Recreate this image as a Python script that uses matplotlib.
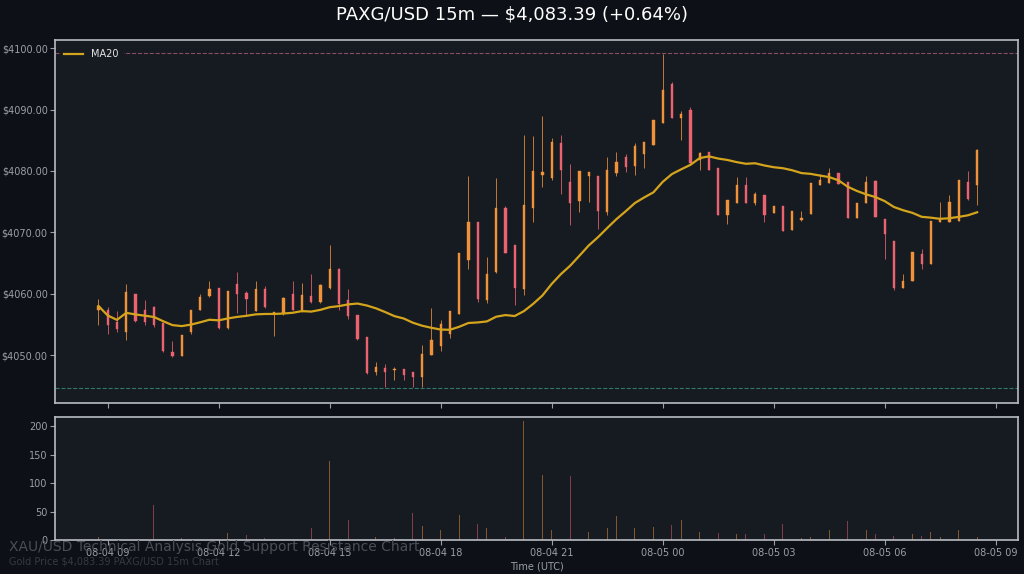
import numpy as np
import pandas as pd
import matplotlib
matplotlib.use("Agg")
import matplotlib.pyplot as plt
import matplotlib.dates as mdates

# 15m candles, PAXG/USD
start = "2025-08-04 08:45"
opens = [4057.3, 4057.3, 4055.4, 4053.8, 4060.0, 4057.3, 4057.9, 4055.2, 4050.5, 4049.8,
         4053.8, 4057.4, 4059.7, 4061.0, 4054.4, 4061.6, 4060.1, 4057.2, 4060.7, 4056.8,
         4056.8, 4059.9, 4057.4, 4059.7, 4058.7, 4061.0, 4064.0, 4058.9, 4056.5, 4052.9,
         4047.2, 4047.9, 4047.5, 4047.7, 4047.2, 4046.5, 4050.0, 4051.4, 4053.5, 4056.7,
         4065.5, 4071.6, 4058.9, 4063.6, 4073.9, 4067.9, 4060.7, 4074.0, 4079.3, 4078.9,
         4084.5, 4078.2, 4075.1, 4079.1, 4079.1, 4073.3, 4079.6, 4082.3, 4080.8, 4082.8,
         4084.2, 4087.8, 4094.1, 4088.7, 4090.0, 4081.8, 4083.1, 4080.5, 4072.8, 4074.7,
         4077.7, 4074.7, 4076.0, 4073.1, 4074.3, 4070.3, 4072.0, 4073.0, 4077.7, 4078.1,
         4079.6, 4078.2, 4072.3, 4074.8, 4078.4, 4072.1, 4068.6, 4060.9, 4062.1, 4066.5,
         4064.8, 4071.6, 4071.6, 4071.9, 4078.2, 4077.7]
highs = [4059.2, 4057.9, 4057.1, 4061.6, 4060.0, 4058.9, 4058.0, 4055.2, 4052.3, 4053.3,
         4057.4, 4060.0, 4062.0, 4061.0, 4060.5, 4063.6, 4060.5, 4062.0, 4061.2, 4056.8,
         4059.5, 4062.0, 4061.8, 4063.2, 4061.5, 4068.0, 4064.2, 4060.7, 4056.5, 4052.9,
         4048.9, 4048.6, 4048.1, 4047.7, 4047.2, 4051.6, 4057.7, 4055.7, 4057.1, 4066.6,
         4079.2, 4071.7, 4065.9, 4078.9, 4074.3, 4067.9, 4085.8, 4085.7, 4088.9, 4085.4,
         4085.8, 4081.1, 4080.0, 4079.9, 4079.1, 4082.3, 4083.1, 4082.8, 4084.6, 4084.7,
         4088.3, 4099.1, 4094.5, 4089.8, 4090.4, 4083.1, 4083.1, 4080.5, 4075.2, 4079.0,
         4079.0, 4076.6, 4076.0, 4074.3, 4074.3, 4073.5, 4073.4, 4078.1, 4079.5, 4080.4,
         4079.6, 4078.2, 4074.8, 4079.2, 4078.6, 4072.2, 4068.6, 4063.2, 4066.8, 4067.3,
         4071.9, 4074.9, 4076.0, 4078.6, 4080.0, 4083.5]
lows = [4054.9, 4053.5, 4053.8, 4052.4, 4055.4, 4054.9, 4054.6, 4050.5, 4049.7, 4049.8,
        4053.5, 4057.3, 4059.5, 4054.2, 4054.2, 4056.8, 4056.5, 4057.2, 4057.6, 4053.1,
        4056.5, 4057.3, 4057.0, 4058.5, 4058.5, 4060.7, 4057.3, 4055.8, 4052.5, 4046.9,
        4046.7, 4044.8, 4045.9, 4045.9, 4044.8, 4044.8, 4050.0, 4050.7, 4052.7, 4056.7,
        4064.1, 4058.6, 4058.5, 4063.3, 4066.6, 4058.1, 4059.8, 4071.7, 4077.3, 4078.6,
        4076.3, 4071.2, 4073.3, 4075.0, 4070.6, 4072.8, 4079.2, 4079.9, 4079.3, 4080.4,
        4084.2, 4087.8, 4088.7, 4085.0, 4081.3, 4080.2, 4080.1, 4072.8, 4071.4, 4074.7,
        4074.7, 4074.4, 4071.7, 4073.1, 4070.2, 4070.3, 4071.9, 4073.0, 4077.7, 4078.1,
        4077.9, 4072.3, 4072.3, 4074.8, 4072.5, 4065.6, 4060.6, 4060.9, 4062.1, 4064.1,
        4064.8, 4071.6, 4071.6, 4071.9, 4075.2, 4074.4]
closes = [4058.0, 4054.9, 4054.3, 4060.3, 4055.6, 4055.4, 4054.9, 4050.7, 4049.8, 4053.3,
          4057.4, 4059.5, 4060.7, 4054.4, 4060.4, 4059.9, 4059.2, 4060.7, 4057.8, 4056.8,
          4059.3, 4057.4, 4059.8, 4058.6, 4061.4, 4064.0, 4058.4, 4056.3, 4052.6, 4047.0,
          4048.1, 4047.3, 4047.5, 4046.7, 4046.5, 4050.2, 4052.4, 4055.0, 4057.1, 4066.6,
          4071.7, 4059.1, 4063.2, 4073.9, 4066.7, 4060.9, 4074.4, 4080.0, 4079.8, 4084.7,
          4080.1, 4074.7, 4080.0, 4079.9, 4073.5, 4080.1, 4081.5, 4080.7, 4084.0, 4084.7,
          4088.3, 4093.2, 4088.7, 4089.3, 4081.3, 4082.9, 4080.1, 4072.8, 4075.2, 4077.7,
          4074.7, 4076.3, 4072.8, 4074.3, 4070.2, 4073.5, 4072.3, 4078.1, 4078.5, 4079.7,
          4077.9, 4072.3, 4074.8, 4078.2, 4072.5, 4069.8, 4060.9, 4062.1, 4066.8, 4064.8,
          4071.9, 4072.4, 4074.9, 4078.6, 4075.4, 4083.39]
volumes = [6, 1, 1, 1, 1, 1, 61, 1, 1, 4,
           1, 1, 1, 1, 12, 1, 9, 1, 4, 1,
           1, 1, 1, 21, 1, 139, 1, 35, 1, 1,
           5, 1, 4, 1, 48, 24, 1, 18, 1, 45,
           1, 29, 21, 1, 6, 1, 209, 1, 114, 18,
           1, 112, 1, 14, 1, 21, 42, 1, 21, 1,
           23, 1, 26, 36, 1, 14, 1, 12, 1, 11,
           10, 1, 10, 1, 28, 1, 3, 6, 1, 18,
           1, 33, 1, 17, 10, 1, 8, 1, 10, 8,
           14, 6, 1, 17, 1, 6]
resistance = 4099.2
support = 4044.7

times = pd.date_range(start, periods=len(closes), freq="15min")
df = pd.DataFrame({"o": opens, "h": highs, "l": lows, "c": closes, "v": volumes}, index=times)
ma20 = df["c"].rolling(20, min_periods=1).mean()

up_col = "#f0923a"
down_col = "#ec6370"
bg_fig = "#0d1117"
bg_ax = "#161a21"
txt = "#9aa0a6"

fig = plt.figure(figsize=(10.24, 5.74), dpi=100, facecolor=bg_fig)
ax = fig.add_axes([0.054, 0.298, 0.940, 0.632], facecolor=bg_ax)
axv = fig.add_axes([0.054, 0.059, 0.940, 0.214], facecolor=bg_ax, sharex=ax)

x = mdates.date2num(df.index.to_pydatetime())
cols = [up_col if c >= o else down_col for o, c in zip(df["o"], df["c"])]
body_w = 0.0026
ax.vlines(x, df["l"], df["h"], colors=cols, linewidth=0.7, alpha=0.8)
ax.bar(x, (df["c"] - df["o"]).abs().clip(lower=0.15), bottom=np.minimum(df["o"], df["c"]),
       width=body_w, color=cols, edgecolor=cols, linewidth=0.3)
ax.plot(x, ma20, color="#d4a51c", linewidth=1.6, label="MA20")
ax.axhline(resistance, color="#b8657a", linestyle="--", linewidth=0.8, alpha=0.7)
ax.axhline(support, color="#3aa38f", linestyle="--", linewidth=0.8, alpha=0.7)

axv.bar(x, df["v"], width=0.0012, color=cols, alpha=0.5)

ax.set_ylim(4042.2, 4101.3)
ax.set_xlim(mdates.date2num(pd.Timestamp("2025-08-04 07:35")),
            mdates.date2num(pd.Timestamp("2025-08-05 09:36")))
axv.set_ylim(0, 216)
axv.set_yticks([0, 50, 100, 150, 200])
ax.yaxis.set_major_formatter(matplotlib.ticker.FuncFormatter(lambda v, p: f"${v:.2f}"))
axv.xaxis.set_major_locator(mdates.HourLocator(byhour=range(0, 24, 3)))
axv.xaxis.set_major_formatter(mdates.DateFormatter("%m-%d %H"))
plt.setp(ax.get_xticklabels(), visible=False)

for a in (ax, axv):
    a.tick_params(colors=txt, labelsize=7, pad=2)
    for s in a.spines.values():
        s.set_color("#b8bcc2")
        s.set_linewidth(1.2)
axv.set_xlabel("Time (UTC)", color=txt, fontsize=7, labelpad=3)

leg = ax.legend(loc="upper left", fontsize=7, facecolor=bg_ax, edgecolor=bg_ax, framealpha=1)
for t in leg.get_texts():
    t.set_color("#e6e6e6")

fig.text(0.5, 0.975, "PAXG/USD 15m — $4,083.39 (+0.64%)", color="white", fontsize=13,
         ha="center", va="center")
fig.text(0.009, 0.047, "XAU/USD Technical Analysis Gold Support Resistance Chart",
         color="#4a4f57", fontsize=10, va="center")
fig.text(0.009, 0.022, "Gold Price $4,083.39 PAXG/USD 15m Chart",
         color="#363a41", fontsize=7, va="center")

fig.savefig("out.png", dpi=100, facecolor=bg_fig)
